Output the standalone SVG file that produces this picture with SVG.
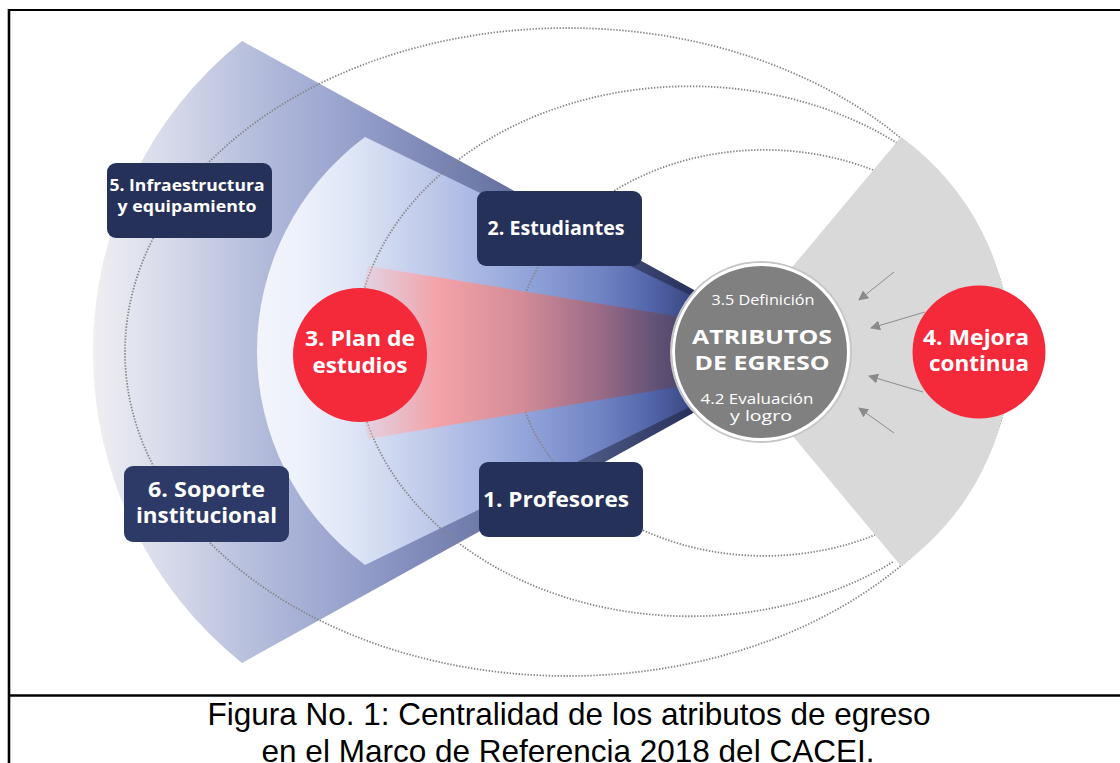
<svg xmlns="http://www.w3.org/2000/svg" width="1120" height="763" viewBox="0 0 1120 763">
<defs>
<style>
.box{fill:#263159;}
.bt{font-family:"Open Sans","Noto Sans",sans-serif;font-weight:700;fill:#ffffff;text-anchor:middle;}
.ct{font-family:"Open Sans","Noto Sans",sans-serif;fill:#ffffff;text-anchor:middle;}
.dot{fill:none;stroke:#858585;stroke-width:1.8;stroke-dasharray:1.4 1.6;}
.arr{stroke:#8c8c8c;stroke-width:1;fill:none;marker-end:url(#ah);}
.cap{font-family:"Liberation Sans",Arial,sans-serif;font-size:31.5px;fill:#000;text-anchor:middle;}
.frame{stroke:#000;fill:none;}
</style>
<marker id="ah" viewBox="0 0 10 10" refX="9" refY="5" markerWidth="10" markerHeight="10" markerUnits="userSpaceOnUse" orient="auto">
<path d="M0,0 L10,5 L0,10 Z" fill="#8a8a8a"/>
</marker>
<linearGradient id="gOuter" gradientUnits="userSpaceOnUse" x1="94" y1="0" x2="760" y2="0">
<stop offset="0" stop-color="#efeff2"/>
<stop offset="0.13" stop-color="#d2d6e8"/>
<stop offset="0.235" stop-color="#b7bfdd"/>
<stop offset="0.34" stop-color="#a0aad2"/>
<stop offset="0.46" stop-color="#8791c0"/>
<stop offset="0.58" stop-color="#6e7aa8"/>
<stop offset="0.7" stop-color="#56628f"/>
<stop offset="0.82" stop-color="#39446f"/>
<stop offset="0.91" stop-color="#262f5a"/>
<stop offset="1" stop-color="#1f2852"/>
</linearGradient>
<linearGradient id="gInner" gradientUnits="userSpaceOnUse" x1="257" y1="0" x2="760" y2="0">
<stop offset="0" stop-color="#f3f5fc"/>
<stop offset="0.085" stop-color="#edf1fb"/>
<stop offset="0.185" stop-color="#dfe6f6"/>
<stop offset="0.325" stop-color="#c3cdeb"/>
<stop offset="0.44" stop-color="#a8b6e2"/>
<stop offset="0.56" stop-color="#8c9fd6"/>
<stop offset="0.68" stop-color="#7184c4"/>
<stop offset="0.78" stop-color="#5366ab"/>
<stop offset="0.88" stop-color="#34417a"/>
<stop offset="1" stop-color="#252f5c"/>
</linearGradient>
<linearGradient id="gCone" gradientUnits="userSpaceOnUse" x1="345" y1="0" x2="720" y2="0">
<stop offset="0" stop-color="#f9b5b9" stop-opacity="0"/>
<stop offset="0.1" stop-color="#f8b6ba" stop-opacity="0.55"/>
<stop offset="0.25" stop-color="#f4a2a7"/>
<stop offset="0.47" stop-color="#d38c98"/>
<stop offset="0.68" stop-color="#9a6b86"/>
<stop offset="0.84" stop-color="#5d5074"/>
<stop offset="1" stop-color="#35385f"/>
</linearGradient>
</defs>
<rect width="1120" height="763" fill="#ffffff"/>

<g id="frame">
<line class="frame" x1="9" y1="10" x2="1120" y2="10" stroke-width="2.2"/>
<line class="frame" x1="9" y1="9" x2="9" y2="763" stroke-width="2.6"/>
<line class="frame" x1="9" y1="695.5" x2="1120" y2="695.5" stroke-width="2.4"/>
</g>

<g id="fans">
<path id="fan-outer" d="M242,41 L805,351 L242,663 A399,399 0 0 1 242,41 Z" fill="url(#gOuter)"/>
<path id="fan-inner" d="M365,137 L805,351 L365,565 A266,266 0 0 1 365,137 Z" fill="url(#gInner)"/>
</g>

<g id="connectors">
<ellipse class="dot" cx="568" cy="352" rx="443" ry="324"/>
<path class="dot" d="M897,143 A335,265 0 1 0 893,562"/>
<path class="dot" d="M873,170 A250,203 0 1 0 875,535"/>
</g>

<g id="cone">
<path d="M368,266 L700,320 L760,351 L700,383 L368,439 Q345,352 368,266 Z" fill="url(#gCone)"/>
</g>

<g id="sector-mejora">
<path d="M901,137 A264.6,264.6 0 0 1 901,566 L722,351 Z" fill="#d9d9d9"/>
</g>

<g id="arrows">
<line class="arr" x1="894" y1="272" x2="859" y2="300"/>
<line class="arr" x1="925" y1="312" x2="871" y2="328"/>
<line class="arr" x1="923" y1="392" x2="869" y2="376"/>
<line class="arr" x1="894" y1="433" x2="859" y2="408"/>
</g>

<g id="node-atributos">
<circle cx="761" cy="352" r="90" fill="none" stroke="#c6c6c6" stroke-width="2"/>
<circle cx="761" cy="352" r="87.5" fill="#808080" stroke="#ffffff" stroke-width="3"/>
<text class="ct" x="763" y="305" font-size="15" textLength="103" lengthAdjust="spacingAndGlyphs">3.5 Definición</text>
<text class="bt" x="762" y="344" font-size="20" textLength="140" lengthAdjust="spacingAndGlyphs">ATRIBUTOS</text>
<text class="bt" x="762" y="370" font-size="20" textLength="135" lengthAdjust="spacingAndGlyphs">DE EGRESO</text>
<text class="ct" x="757" y="403.5" font-size="14.5" textLength="113" lengthAdjust="spacingAndGlyphs">4.2 Evaluación</text>
<text class="ct" x="761" y="421" font-size="14.5" textLength="62" lengthAdjust="spacingAndGlyphs">y logro</text>
</g>

<g id="node-plan">
<circle cx="360" cy="355" r="67" fill="#f42a3b"/>
<text class="bt" x="360" y="346" font-size="21.5" textLength="110" lengthAdjust="spacingAndGlyphs">3. Plan de</text>
<text class="bt" x="360" y="373" font-size="21.5" textLength="95" lengthAdjust="spacingAndGlyphs">estudios</text>
</g>

<g id="node-mejora">
<circle cx="979" cy="352" r="66.5" fill="#f42a3b"/>
<text class="bt" x="976" y="345" font-size="21" textLength="106" lengthAdjust="spacingAndGlyphs">4. Mejora</text>
<text class="bt" x="979" y="371" font-size="21" textLength="100" lengthAdjust="spacingAndGlyphs">continua</text>
</g>

<g id="node-infra">
<rect class="box" x="107" y="163" width="165" height="75" rx="9"/>
<text class="bt" x="187" y="191" font-size="16.5" textLength="155" lengthAdjust="spacingAndGlyphs">5. Infraestructura</text>
<text class="bt" x="187" y="212" font-size="16.5" textLength="139" lengthAdjust="spacingAndGlyphs">y equipamiento</text>
</g>

<g id="node-estudiantes">
<rect class="box" x="477" y="191" width="165" height="75" rx="9"/>
<text class="bt" x="556" y="235" font-size="19.5" textLength="137" lengthAdjust="spacingAndGlyphs">2. Estudiantes</text>
</g>

<g id="node-profesores">
<rect class="box" x="479" y="462" width="164" height="75" rx="9"/>
<text class="bt" x="556" y="507" font-size="21.5" textLength="146" lengthAdjust="spacingAndGlyphs">1. Profesores</text>
</g>

<g id="node-soporte">
<rect x="124" y="466" width="165" height="76" rx="9" fill="#2d3966"/>
<text class="bt" x="206.5" y="497" font-size="21" textLength="117" lengthAdjust="spacingAndGlyphs">6. Soporte</text>
<text class="bt" x="206.5" y="523" font-size="21" textLength="141" lengthAdjust="spacingAndGlyphs">institucional</text>
</g>

<g id="caption">
<text class="cap" x="569" y="725">Figura No. 1: Centralidad de los atributos de egreso</text>
<text class="cap" x="568" y="762">en el Marco de Referencia 2018 del CACEI.</text>
</g>
</svg>
